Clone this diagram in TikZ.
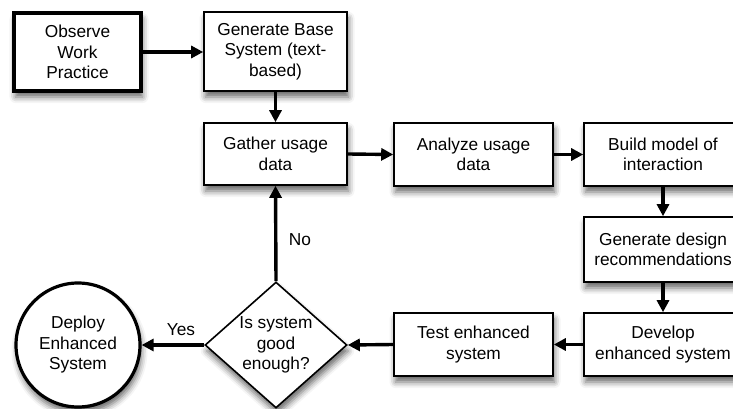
\documentclass[tikz,border=0pt]{standalone}
\usepackage{fontspec}
\setmainfont{Liberation Sans}
\usetikzlibrary{shapes.geometric,arrows.meta,shadows.blur}
\begin{document}
\begin{tikzpicture}[x=1pt,y=-1pt,
  shad/.style={blur shadow={shadow xshift=1.5pt, shadow yshift=-6pt, shadow blur radius=6pt, shadow opacity=60}},
  txt/.style={font=\fontsize{17.3}{20.5}\selectfont, align=center},
  box/.style={txt, draw, line width=1.6pt, fill=white, shad, inner sep=0pt},
  conn/.style={line width=3.4pt, -{Triangle[length=12pt,width=12pt]}},
  lbl/.style={txt}]
\useasboundingbox (0,0) rectangle (733,409);
\clip (0,0) rectangle (733,409);

\node[box, line width=3.8pt, minimum width=127pt, minimum height=78pt] (obs) at (77.5,52) {Observe\\Work\\Practice};
\node[box, minimum width=143pt, minimum height=79pt] (gen) at (275.5,51.5) {Generate Base\\System (text-\\based)};
\node[box, minimum width=143pt, minimum height=62pt] (gat) at (275.5,154) {Gather usage\\data};
\node[box, minimum width=159pt, minimum height=63pt] (ana) at (473.5,154.5) {Analyze usage\\data};
\node[box, minimum width=158pt, minimum height=63pt] (bui) at (663,154.5) {Build model of\\interaction};
\node[box, minimum width=158pt, minimum height=65pt] (des) at (663,249.5) {Generate design\\recommendations};
\node[box, minimum width=158pt, minimum height=63pt] (dev) at (663,344.5) {Develop\\enhanced system};
\node[box, minimum width=159pt, minimum height=63pt] (tst) at (473.5,344.5) {Test enhanced\\system};
\node[box, shape=diamond, shape aspect=1.13, minimum width=142pt, minimum height=126pt] (dia) at (276,345) {Is system\\good\\enough?};
\node[box, shape=circle, line width=3.2pt, minimum size=124pt] (dep) at (78,345) {Deploy\\Enhanced\\System};

\draw[conn] (obs.east) -- (gen.west |- obs.east);
\draw[conn] (gen.south) -- (gat.north);
\draw[conn] (gat.east) -- (ana.west);
\draw[conn] (ana.east) -- (bui.west);
\draw[conn] (bui.south) -- (des.north);
\draw[conn] (des.south) -- (dev.north);
\draw[conn] (dev.west) -- (tst.east);
\draw[conn] (tst.west) -- (dia.east);
\draw[conn] (dia.west) -- (dep.east);
\draw[conn] (dia.north) -- (gat.south);

\node[lbl] (no) at (300,240) {No};
\node[lbl] (yes) at (181,330) {Yes};
\end{tikzpicture}
\end{document}
